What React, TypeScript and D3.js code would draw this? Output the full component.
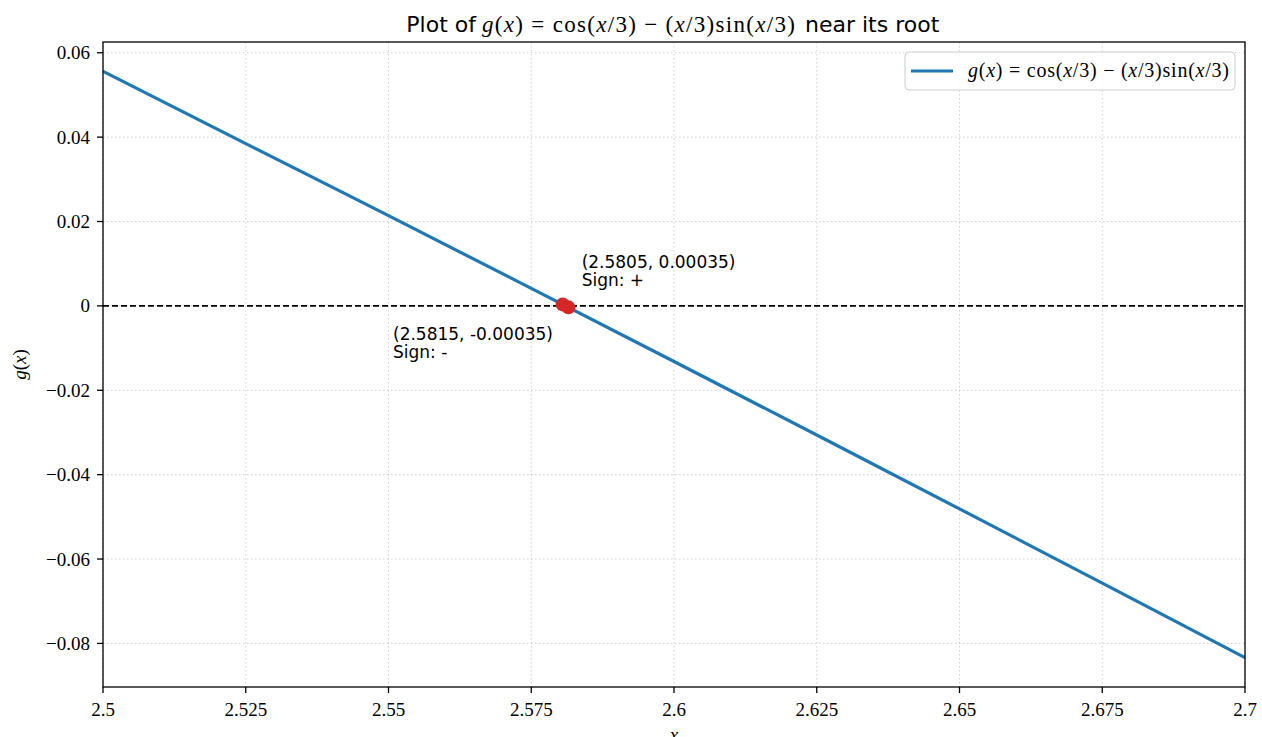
import React from "react";
import * as d3 from "d3";

const xSamples = [2.5, 2.525, 2.55, 2.575, 2.6, 2.625, 2.65, 2.675, 2.7];
const gValues = [0.0556, 0.03847, 0.02139, 0.00415, -0.01318, -0.0306, -0.04811, -0.06571, -0.08338];
const rootPoints = [
  { x: 2.5805, y: 0.00035, label: "(2.5805, 0.00035)", sign: "Sign: +" },
  { x: 2.5815, y: -0.00035, label: "(2.5815, -0.00035)", sign: "Sign: -" },
];
const xTicks = [2.5, 2.525, 2.55, 2.575, 2.6, 2.625, 2.65, 2.675, 2.7];
const xTickLabels = ["2.5", "2.525", "2.55", "2.575", "2.6", "2.625", "2.65", "2.675", "2.7"];
const yTicks = [0.06, 0.04, 0.02, 0, -0.02, -0.04, -0.06, -0.08];
const yTickLabels = ["0.06", "0.04", "0.02", "0", "\u22120.02", "\u22120.04", "\u22120.06", "\u22120.08"];

const W = 1262, H = 737;
const L = 103, R = 1245, T = 42, B = 687;
const serif = "'Liberation Serif', 'DejaVu Serif', serif";
const sans = "'DejaVu Sans', sans-serif";

function MathG() {
  return (
    <>
      <tspan fontStyle="italic">g</tspan>
      <tspan>(</tspan>
      <tspan fontStyle="italic">x</tspan>
      <tspan>) = cos(</tspan>
      <tspan fontStyle="italic">x</tspan>
      <tspan>/3) − (</tspan>
      <tspan fontStyle="italic">x</tspan>
      <tspan>/3)sin(</tspan>
      <tspan fontStyle="italic">x</tspan>
      <tspan>/3)</tspan>
    </>
  );
}

export default function App() {
  const xMin = d3.min(xSamples)!, xMax = d3.max(xSamples)!;
  const yMinD = d3.min(gValues)!, yMaxD = d3.max(gValues)!;
  const pad = (yMaxD - yMinD) * 0.05;
  const x = d3.scaleLinear().domain([xMin, xMax]).range([L, R]);
  const y = d3.scaleLinear().domain([yMinD - pad, yMaxD + pad]).range([B, T]);
  const pts = xSamples.map((v, i) => [v, gValues[i]] as [number, number]);
  const line = d3.line<[number, number]>().x(d => x(d[0])).y(d => y(d[1])).curve(d3.curveMonotoneX);

  const a0x = x(rootPoints[0].x) + 19;
  const a1x = 393;

  return (
    <svg width={W} height={H} style={{ position: "absolute", left: 0, top: 0, background: "#fff" }}>
      <rect x={0} y={0} width={W} height={H} fill="#fff" />
      <defs>
        <clipPath id="plotclip"><rect x={L} y={T} width={R - L} height={B - T} /></clipPath>
      </defs>
      {/* grid */}
      {xTicks.map((t, i) => (
        <line key={"gx" + i} x1={x(t)} x2={x(t)} y1={T} y2={B} stroke="#b0b0b0" strokeOpacity={0.6} strokeWidth={1} strokeDasharray="1.5,2.5" />
      ))}
      {yTicks.map((t, i) => (
        <line key={"gy" + i} x1={L} x2={R} y1={y(t)} y2={y(t)} stroke="#b0b0b0" strokeOpacity={0.6} strokeWidth={1} strokeDasharray="1.5,2.5" />
      ))}
      {/* zero line */}
      <line x1={L} x2={R} y1={y(0)} y2={y(0)} stroke="#000" strokeWidth={1.6} strokeDasharray="6,3" />
      {/* curve */}
      <g clipPath="url(#plotclip)">
        <path d={line(pts) || ""} fill="none" stroke="#1f77b4" strokeWidth={3.2} />
      </g>
      {/* root points */}
      {rootPoints.map((p, i) => (
        <circle key={"p" + i} cx={x(p.x)} cy={y(p.y)} r={7} fill="#d62728" />
      ))}
      {/* annotations */}
      <text x={a0x} y={268} fontFamily={sans} fontSize={17} fill="#000">
        <tspan x={a0x}>{rootPoints[0].label}</tspan>
        <tspan x={a0x} dy={18}>{rootPoints[0].sign}</tspan>
      </text>
      <text x={a1x} y={340} fontFamily={sans} fontSize={17} fill="#000">
        <tspan x={a1x}>{rootPoints[1].label}</tspan>
        <tspan x={a1x} dy={18}>{rootPoints[1].sign}</tspan>
      </text>
      {/* spines */}
      <rect x={L} y={T} width={R - L} height={B - T} fill="none" stroke="#000" strokeWidth={1.3} />
      {/* x ticks */}
      {xTicks.map((t, i) => (
        <g key={"xt" + i}>
          <line x1={x(t)} x2={x(t)} y1={B} y2={B + 6} stroke="#000" strokeWidth={1.3} />
          <text x={x(t)} y={B + 29} textAnchor="middle" fontFamily={serif} fontSize={19} fill="#000">{xTickLabels[i]}</text>
        </g>
      ))}
      {/* y ticks */}
      {yTicks.map((t, i) => (
        <g key={"yt" + i}>
          <line x1={L - 6} x2={L} y1={y(t)} y2={y(t)} stroke="#000" strokeWidth={1.3} />
          <text x={L - 13} y={y(t) + 6.5} textAnchor="end" fontFamily={serif} fontSize={19} fill="#000">{yTickLabels[i]}</text>
        </g>
      ))}
      {/* axis labels */}
      <text transform={`translate(26,${(T + B) / 2}) rotate(-90)`} textAnchor="middle" fontFamily={serif} fontSize={19} fill="#000">
        <tspan fontStyle="italic">g</tspan>(<tspan fontStyle="italic">x</tspan>)
      </text>
      <text x={(L + R) / 2} y={741} textAnchor="middle" fontFamily={serif} fontStyle="italic" fontSize={19} fill="#000">x</text>
      {/* title */}
      <text x={476} y={32} textAnchor="end" fontFamily={sans} fontSize={22} fill="#000">Plot of</text>
      <text x={482} y={32} fontFamily={serif} fontSize={23} fill="#000" textLength={313} lengthAdjust="spacing">
        <MathG />
      </text>
      <text x={805} y={32} fontFamily={sans} fontSize={22} fill="#000">near its root</text>
      {/* legend */}
      <rect x={905} y={52} width={330} height={38} rx={4} fill="#fff" fillOpacity={0.8} stroke="#cccccc" strokeWidth={1} />
      <line x1={911} x2={953} y1={71} y2={71} stroke="#1f77b4" strokeWidth={3.2} />
      <text x={968} y={77} fontFamily={serif} fontSize={20} fill="#000" textLength={261} lengthAdjust="spacing">
        <MathG />
      </text>
    </svg>
  );
}
